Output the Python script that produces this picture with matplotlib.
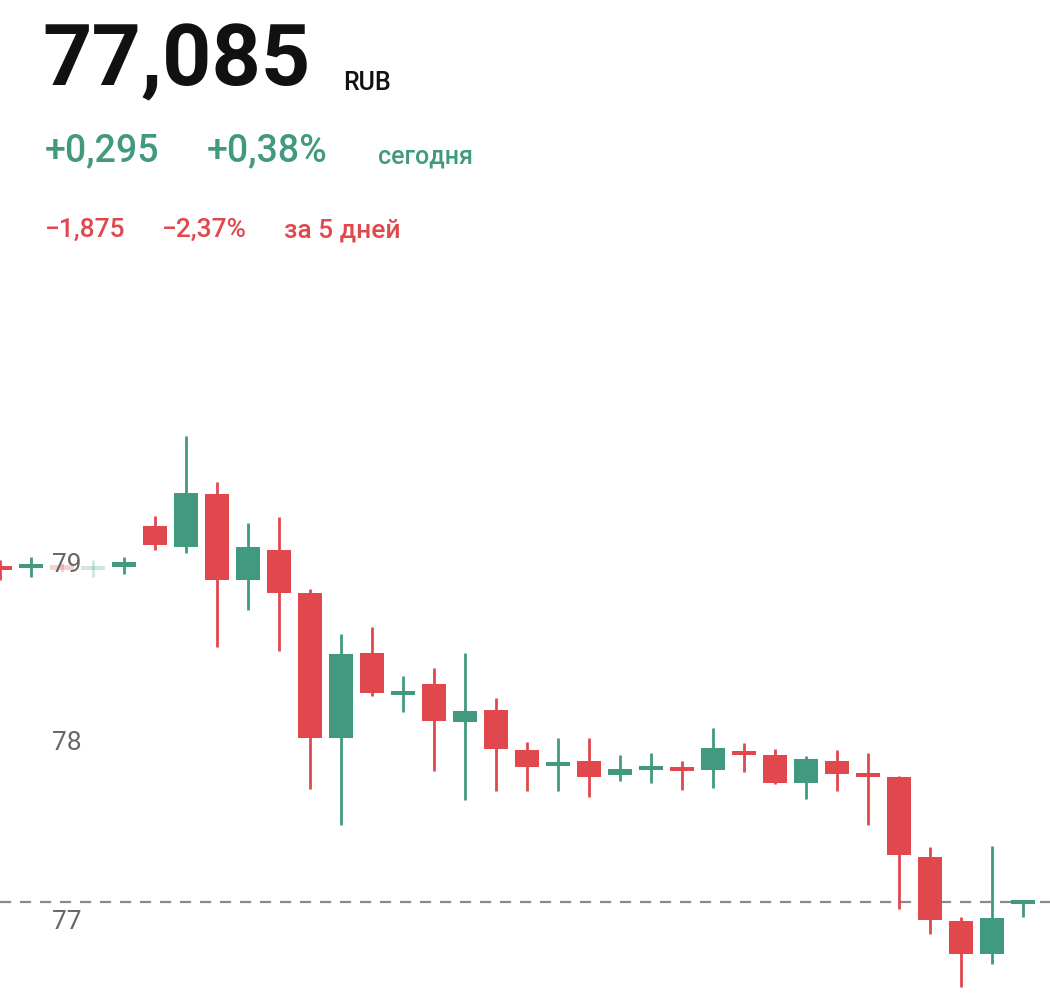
import matplotlib
matplotlib.use("Agg")
import matplotlib.pyplot as plt

plt.rcParams['font.family'] = ['Roboto', 'DejaVu Sans']

opens  = [78.989,78.989,79.000,78.978,78.989,79.218,79.101,79.398,78.916,79.084,78.843,78.031,78.507,78.277,78.333,78.120,78.188,77.964,77.880,77.902,77.824,77.857,77.863,77.852,77.958,77.936,77.779,77.902,77.829,77.812,77.364,77.006,76.821,77.106]
closes = [78.978,79.000,78.972,78.989,79.017,79.112,79.403,78.916,79.101,78.843,78.031,78.501,78.283,78.289,78.126,78.182,77.969,77.868,77.891,77.812,77.857,77.868,77.852,77.975,77.936,77.779,77.913,77.829,77.818,77.375,77.011,76.821,77.022,77.118]
highs  = [79.028,79.045,79.011,79.028,79.045,79.275,79.723,79.465,79.235,79.269,78.866,78.613,78.653,78.378,78.423,78.507,78.255,78.008,78.031,78.031,77.936,77.947,77.902,78.087,78.003,77.969,77.930,77.964,77.947,77.818,77.420,77.028,77.426,77.118]
lows   = [78.916,78.933,78.961,78.933,78.950,79.084,79.067,78.541,78.748,78.518,77.745,77.543,78.266,78.176,77.846,77.683,77.734,77.734,77.734,77.700,77.790,77.779,77.739,77.751,77.840,77.773,77.689,77.734,77.543,77.073,76.933,76.636,76.765,77.028]
faded = [2, 3]
last_price = 77.112
yticks = [77, 78, 79]
ytick_labels = ["77", "78", "79"]

GREEN = "#419a80"
RED = "#e1484e"

fig = plt.figure(figsize=(10.5, 9.97), dpi=100)
ax = fig.add_axes([0, 0, 1, 577/997])
ax.set_xlim(0, 1050/31)
ax.set_ylim(76.58, 79.812)
ax.axis("off")

ax.axhline(last_price, color="#8a8a8a", lw=1.6, ls=(0, (5, 4)), zorder=1)

for i, (o, c, h, l) in enumerate(zip(opens, closes, highs, lows)):
    col = GREEN if c >= o else RED
    a = 0.25 if i in faded else 1.0
    if i == 2:
        col = RED
    ax.vlines(i, l, h, color=col, lw=2.0, alpha=a, zorder=2)
    bottom = min(o, c)
    height = max(abs(c - o), 0.02)
    if abs(c - o) < 0.02:
        bottom = (o + c) / 2 - 0.01
    ax.bar(i, height, bottom=bottom, width=0.76, color=col, alpha=a, zorder=3)

for v, t in zip(yticks, ytick_labels):
    ax.text(52/31, v, t, fontsize=19, color="#666666", va="center", ha="left", zorder=4)

fig.text(42/1050, 1 - 62/997, "77,085", fontsize=62, fontweight="bold", color="#111111", va="center", ha="left")
fig.text(343/1050, 1 - 83/997, "RUB", fontsize=18, fontweight="medium", color="#111111", va="center", ha="left")
fig.text(45/1050, 1 - 151/997, "+0,295", fontsize=27, fontweight="medium", color=GREEN, va="center", ha="left")
fig.text(207/1050, 1 - 151/997, "+0,38%", fontsize=27, fontweight="medium", color=GREEN, va="center", ha="left")
fig.text(378/1050, 1 - 156/997, "сегодня", fontsize=18, fontweight="medium", color=GREEN, va="center", ha="left")
fig.text(45/1050, 1 - 230/997, "−1,875", fontsize=19, fontweight="medium", color=RED, va="center", ha="left")
fig.text(162/1050, 1 - 230/997, "−2,37%", fontsize=19, fontweight="medium", color=RED, va="center", ha="left")
fig.text(284/1050, 1 - 230/997, "за 5 дней", fontsize=19, fontweight="medium", color=RED, va="center", ha="left")

fig.savefig("out.png", dpi=100)
